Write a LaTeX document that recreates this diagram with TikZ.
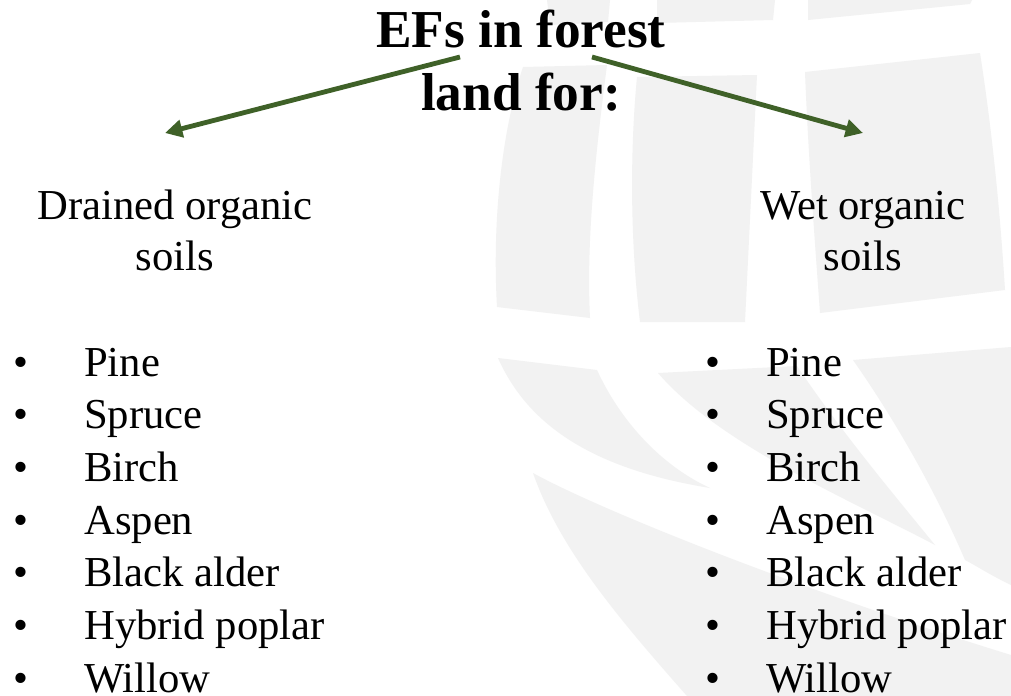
\documentclass[tikz,border=0pt]{standalone}
\usepackage{fontspec}
\setmainfont{Liberation Serif}
\usetikzlibrary{arrows.meta}
\definecolor{wm}{HTML}{F2F2F2}
\definecolor{arrowgreen}{HTML}{3F6128}
\begin{document}
\begin{tikzpicture}[x=0.75pt,y=-0.75pt,
  wmark/.style={fill=wm,draw=none},
  titletext/.style={font=\fontsize{40}{47.25}\selectfont\bfseries, align=center, inner sep=0pt, anchor=base},
  headtext/.style={font=\fontsize{32}{38.25}\selectfont, align=center, inner sep=0pt, anchor=base},
  itemtext/.style={font=\fontsize{32}{38}\selectfont, inner sep=0pt, anchor=base west},
  bulletmark/.style={font=\fontsize{32}{38}\selectfont, inner sep=0pt, anchor=base},
  link/.style={draw=arrowgreen, line width=3.6pt, -{Triangle[length=13pt,width=13pt]}}
]
\useasboundingbox (0,0) rectangle (1011,696);
\fill[white] (0,0) rectangle (1011,696);

% watermark (faint logo)
\fill[wmark] (547,0) -- (610,0) -- (608,22) -- (550,25) -- cycle;
\fill[wmark] (657,0) -- (775,0) -- (773,20) -- (657,23) -- cycle;
\fill[wmark] (808,0) -- (972,0) -- (970,4) -- (808,20) -- cycle;
\fill[wmark] (523,67) -- (607,65) .. controls (596,150) and (586,240) .. (590,318)
  -- (497,307) .. controls (492,220) and (502,130) .. cycle;
\fill[wmark] (637,77) -- (757,75) -- (745,322) -- (640,322)
  .. controls (630,240) and (630,150) .. cycle;
\fill[wmark] (805,72) -- (980,53) .. controls (992,130) and (1000,210) .. (1005,290)
  -- (820,313) .. controls (814,230) and (808,150) .. cycle;
\fill[wmark] (498,358) -- (597,370) .. controls (620,420) and (660,465) .. (710,488)
  .. controls (600,470) and (530,430) .. cycle;
\fill[wmark] (658,373) -- (797,366) .. controls (840,430) and (890,490) .. (935,545)
  .. controls (850,500) and (720,445) .. cycle;
\fill[wmark] (853,360) -- (1011,347) -- (1011,585)
  .. controls (990,575) and (975,565) .. (965,560)
  .. controls (935,490) and (895,420) .. cycle;
\fill[wmark] (533,473) .. controls (600,510) and (800,590) .. (1011,655)
  -- (1011,696) -- (687,696) .. controls (620,620) and (560,550) .. cycle;

% title (anchor base = baseline of last line)
\node[titletext] (title) at (521,110) {EFs in forest\\land for:};

% headings
\node[headtext] (drained) at (175,270) {Drained organic\\soils};
\node[headtext] (wet) at (863,270) {Wet organic\\soils};

% arrows
\coordinate (lstart) at (460,57);
\coordinate (lend) at (165,133);
\coordinate (rstart) at (592,57);
\coordinate (rend) at (863,133);
\draw[link] (lstart) -- (lend);
\draw[link] (rstart) -- (rend);

% lists
\foreach \t [count=\i from 0] in {Pine,Spruce,Birch,Aspen,Black alder,Hybrid poplar,Willow}{
  \node[bulletmark] (lb\i) at (21,376+\i*52.7) {•};
  \node[itemtext] (li\i) at (84,376+\i*52.7) {\t};
  \node[bulletmark] (rb\i) at (713,376+\i*52.7) {•};
  \node[itemtext] (ri\i) at (766,376+\i*52.7) {\t};
}
\end{tikzpicture}
\end{document}
